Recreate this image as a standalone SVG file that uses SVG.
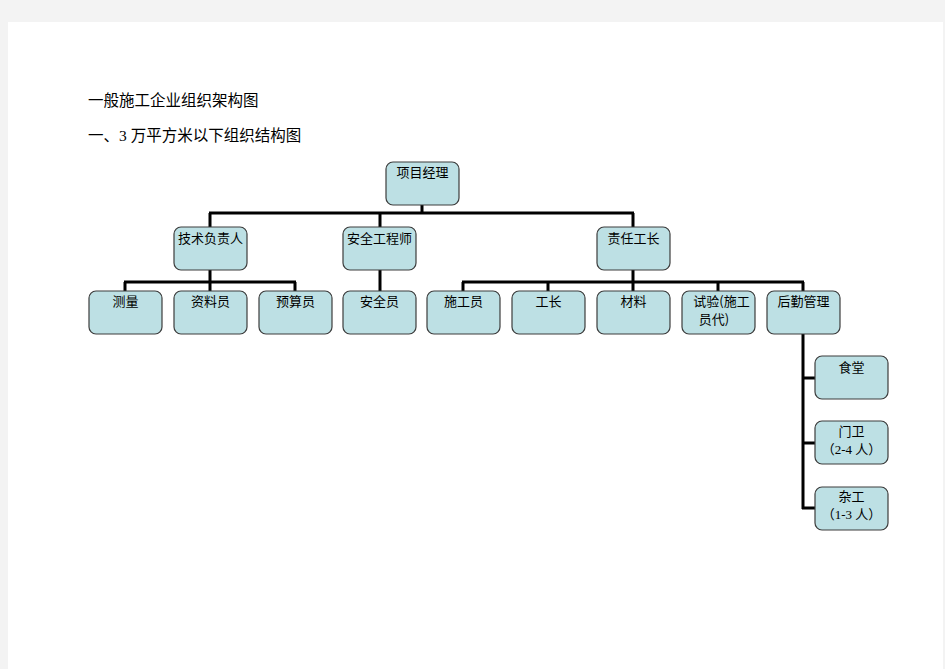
<svg xmlns="http://www.w3.org/2000/svg" width="945" height="669" viewBox="0 0 945 669">
<style>
.box{fill:#bde0e4;stroke:#3c3c3c;stroke-width:1.2}
.t{font-family:"Noto Sans CJK SC","Noto Sans",sans-serif;font-size:13px;fill:#000;text-anchor:middle}
.s{font-family:"Liberation Serif",serif}
.title{font-family:"Noto Sans CJK SC","Noto Sans",sans-serif;font-size:15.5px;fill:#000}
.c{fill:none;stroke:#000;stroke-width:3}
</style>
<rect x="0" y="0" width="945" height="669" fill="#f3f3f3"/>
<rect x="8" y="22" width="935" height="647" fill="#ffffff"/>
<text class="title" x="88" y="106">一般施工企业组织架构图</text>
<text class="title" x="88" y="141">一、<tspan class="s">3 </tspan>万平方米以下组织结构图</text>
<g id="connectors">
<path class="c" d="M422 205V213M209 213H634M210 213V227M380 213V227M633 213V227"/>
<path class="c" d="M210 270V291M124 282H296M125 282V291M295 282V291"/>
<path class="c" d="M380 270V291"/>
<path class="c" d="M633 270V291M462 282H804M463 282V291M548 282V291M718 282V291M803 282V291"/>
<path class="c" d="M803 334V509M802 378H815M802 443H815M802 508H815"/>
</g>
<g id="n-pm"><rect class="box" x="386" y="162" width="73" height="43" rx="7"/><text class="t" x="422.5" y="177">项目经理</text></g>
<g id="n-tech"><rect class="box" x="174" y="227" width="73" height="43" rx="7"/><text class="t" x="210.5" y="243">技术负责人</text></g>
<g id="n-safe-eng"><rect class="box" x="343" y="227" width="73" height="43" rx="7"/><text class="t" x="379.5" y="243">安全工程师</text></g>
<g id="n-foreman"><rect class="box" x="597" y="227" width="73" height="43" rx="7"/><text class="t" x="633.5" y="243">责任工长</text></g>
<g id="n-survey"><rect class="box" x="89" y="291" width="73" height="43" rx="7"/><text class="t" x="125.5" y="306">测量</text></g>
<g id="n-docs"><rect class="box" x="174" y="291" width="73" height="43" rx="7"/><text class="t" x="210.5" y="306">资料员</text></g>
<g id="n-budget"><rect class="box" x="259" y="291" width="73" height="43" rx="7"/><text class="t" x="295.5" y="306">预算员</text></g>
<g id="n-safety"><rect class="box" x="343" y="291" width="73" height="43" rx="7"/><text class="t" x="379.5" y="306">安全员</text></g>
<g id="n-builder"><rect class="box" x="427" y="291" width="73" height="43" rx="7"/><text class="t" x="463.5" y="306">施工员</text></g>
<g id="n-gz"><rect class="box" x="512" y="291" width="73" height="43" rx="7"/><text class="t" x="548.5" y="306">工长</text></g>
<g id="n-material"><rect class="box" x="597" y="291" width="73" height="43" rx="7"/><text class="t" x="633.5" y="306">材料</text></g>
<g id="n-test"><rect class="box" x="682" y="291" width="73" height="43" rx="7"/><text class="t" x="721.5" y="306">试验(施工</text><text class="t" x="714" y="324">员代)</text></g>
<g id="n-logistics"><rect class="box" x="767" y="291" width="73" height="43" rx="7"/><text class="t" x="803.5" y="306">后勤管理</text></g>
<g id="n-canteen"><rect class="box" x="815" y="356" width="73" height="43" rx="7"/><text class="t" x="851.5" y="372">食堂</text></g>
<g id="n-guard"><rect class="box" x="815" y="421" width="73" height="43" rx="7"/><text class="t" x="851.5" y="436">门卫</text><text class="t" x="851.5" y="454">（<tspan class="s">2-4 </tspan>人）</text></g>
<g id="n-misc"><rect class="box" x="815" y="487" width="73" height="43" rx="7"/><text class="t" x="851.5" y="501">杂工</text><text class="t" x="851.5" y="519">（<tspan class="s">1-3 </tspan>人）</text></g>
</svg>
